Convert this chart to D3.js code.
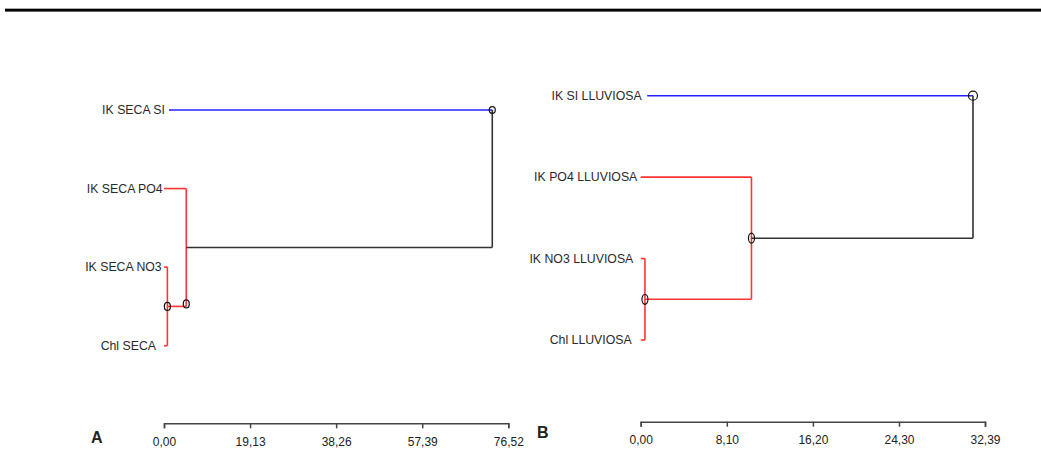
<!DOCTYPE html>
<html>
<head>
<meta charset="utf-8">
<script src="https://cdn.jsdelivr.net/npm/d3@7"></script>
<style>
  html, body { margin: 0; padding: 0; background: #fff; }
  svg { display: block; }
  text { font-family: "Liberation Sans", Arial, sans-serif; }
</style>
</head>
<body>
<svg id="chart" width="1041" height="450"></svg>
<script>
// ---------- Data ----------
// Panel A (época seca)
const leavesA = ["IK SECA SI", "IK SECA PO4", "IK SECA NO3", "Chl SECA"];
// merge heights: [NO3+Chl, PO4+(NO3,Chl), SI+rest]
const mergesA = [0.75, 4.95, 72.96];
const tickValuesA = [0, 19.13, 38.26, 57.39, 76.52];
const tickLabelsA = ["0,00", "19,13", "38,26", "57,39", "76,52"];

// Panel B (época lluviosa)
const leavesB = ["IK SI LLUVIOSA", "IK PO4 LLUVIOSA", "IK NO3 LLUVIOSA", "Chl LLUVIOSA"];
const mergesB = [0.4, 10.42, 31.26];
const tickValuesB = [0, 8.10, 16.20, 24.30, 32.39];
const tickLabelsB = ["0,00", "8,10", "16,20", "24,30", "32,39"];

const panelLetters = ["A", "B"];

// ---------- Drawing ----------
const svg = d3.select("#chart");
const RED = "#ff3535", BLUE = "#2222ff", DARK = "#333333";

// top rule
svg.append("rect").attr("x", 5).attr("y", 8).attr("width", 1036).attr("height", 4).attr("fill", "#aaa");
svg.append("rect").attr("x", 5).attr("y", 9).attr("width", 1036).attr("height", 2.4).attr("fill", "#000");

function drawPanel(cfg) {
  const g = svg.append("g");
  const x = d3.scaleLinear().domain([0, cfg.ticks[cfg.ticks.length - 1]]).range(cfg.xRange);
  const y = d3.scalePoint().domain(cfg.leaves).range(cfg.yRange);
  const [h1, h2, h3] = cfg.merges;
  const [lSI, lPO4, lNO3, lChl] = cfg.leaves;

  const y1 = (y(lNO3) + y(lChl)) / 2;      // node1 y
  const y2 = (y(lPO4) + y1) / 2;           // node2 y

  const line = (x1, ya, x2, yb, color) =>
    g.append("line").attr("x1", x1).attr("y1", ya).attr("x2", x2).attr("y2", yb)
      .attr("stroke", color).attr("stroke-width", 1.6).attr("fill", "none");

  // leaves
  line(x(0) + cfg.siOffset, y(lSI), x(h3), y(lSI), BLUE);
  line(x(0), y(lPO4), x(h2), y(lPO4), RED);
  line(x(0), y(lNO3), x(h1), y(lNO3), RED);
  line(x(0), y(lChl), x(h1), y(lChl), RED);
  // node1
  line(x(h1), y(lNO3), x(h1), y(lChl), RED);
  line(x(h1), y1, x(h2), y1, RED);
  // node2
  line(x(h2), y(lPO4), x(h2), y1, RED);
  line(x(h2), y2, x(h3), y2, DARK);
  // root
  line(x(h3), y(lSI), x(h3), y2, DARK);

  // node markers
  const marks = [
    { cx: x(h1), cy: y1, rx: cfg.r[0][0], ry: cfg.r[0][1] },
    { cx: x(h2), cy: cfg.node2MarkLow ? y1 - 2.5 : y2, rx: cfg.r[1][0], ry: cfg.r[1][1] },
    { cx: x(h3), cy: y(lSI), rx: cfg.r[2][0], ry: cfg.r[2][1] }
  ];
  g.selectAll("ellipse.m").data(marks).join("ellipse")
    .attr("cx", d => d.cx).attr("cy", d => d.cy)
    .attr("rx", d => d.rx).attr("ry", d => d.ry)
    .attr("fill", "none").attr("stroke", "#111").attr("stroke-width", 1.2);

  // labels
  g.selectAll("text.leaf").data(cfg.leaves).join("text")
    .attr("x", (d, i) => x(0) + cfg.labelShift[i])
    .attr("y", d => y(d))
    .attr("dy", "0.35em")
    .attr("text-anchor", "end")
    .attr("font-size", 12.3)
    .attr("fill", "#2a2a2a")
    .text(d => d);

  // axis
  const axis = d3.axisBottom(x)
    .tickValues(cfg.ticks)
    .tickFormat((d, i) => cfg.tickLabels[i])
    .tickSize(5).tickSizeOuter(5).tickPadding(9);
  const ag = g.append("g").attr("transform", `translate(0,${cfg.axisY})`).call(axis);
  ag.select(".domain").attr("stroke", "#444").attr("stroke-width", 1.5);
  ag.selectAll(".tick line").attr("stroke", "#444").attr("stroke-width", 1.5);
  ag.selectAll(".tick text").attr("font-size", 12).attr("fill", "#222")
    .attr("font-family", "'Liberation Sans', Arial, sans-serif");

  // panel letter
  g.append("text").attr("x", cfg.letterX).attr("y", cfg.letterY)
    .attr("text-anchor", "middle").attr("font-size", 16).attr("font-weight", "bold")
    .attr("fill", "#222").text(cfg.letter);
}

drawPanel({
  leaves: leavesA, merges: mergesA, ticks: tickValuesA, tickLabels: tickLabelsA,
  xRange: [164, 508.3], yRange: [110, 345.7], axisY: 423.3,
  labelShift: [1, -1.3, -2.3, -8], siOffset: 5, node2MarkLow: true,
  r: [[3, 4], [3, 4], [3, 3.3]],
  letter: panelLetters[0], letterX: 96.7, letterY: 443
});

drawPanel({
  leaves: leavesB, merges: mergesB, ticks: tickValuesB, tickLabels: tickLabelsB,
  xRange: [640.7, 985], yRange: [95.7, 340], axisY: 421.7,
  labelShift: [1, -3.4, -7.4, -9], siOffset: 6.5, node2MarkLow: false,
  r: [[3, 5], [3, 5], [4.5, 4.5]],
  letter: panelLetters[1], letterX: 542.7, letterY: 437.5
});
</script>
</body>
</html>
